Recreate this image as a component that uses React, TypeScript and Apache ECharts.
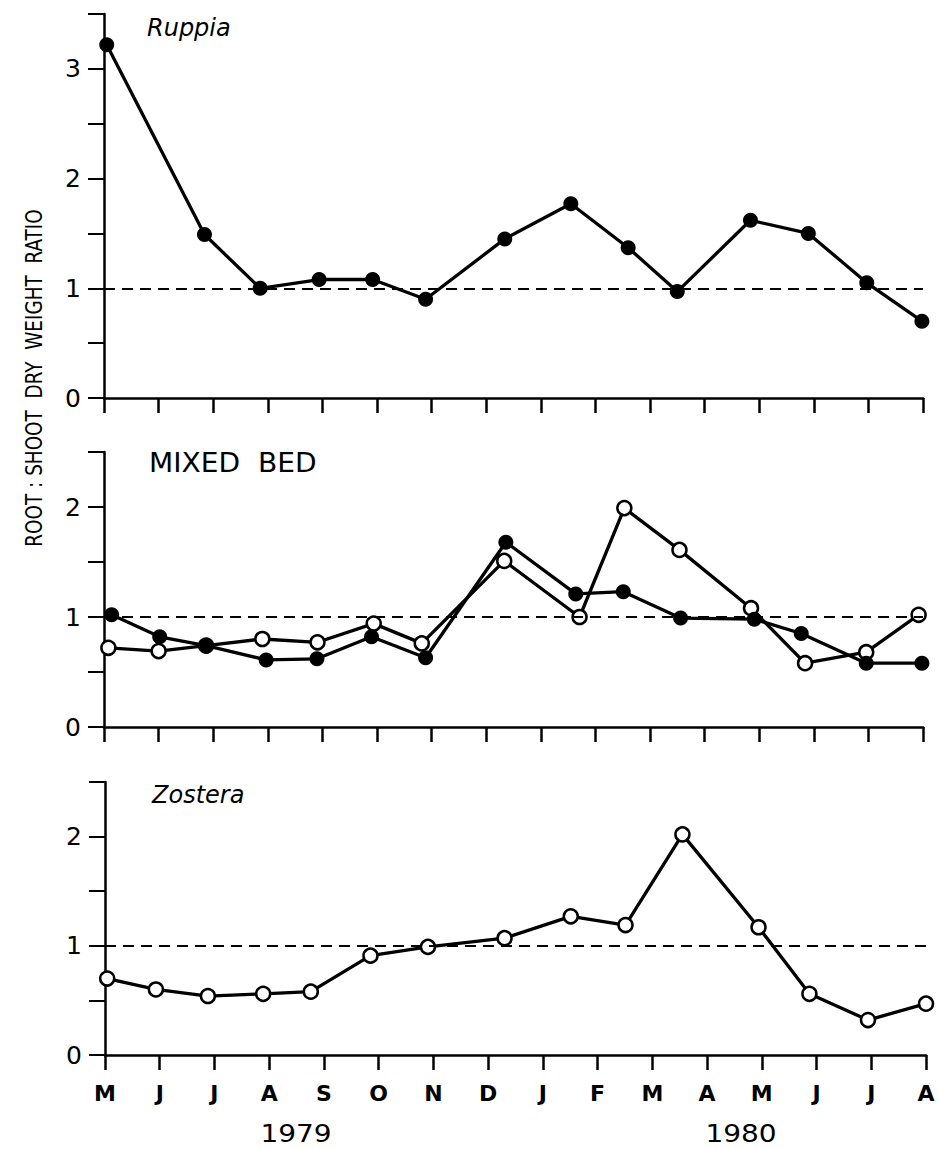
import React, { useEffect, useRef } from "react";
import * as echarts from "echarts";

// x positions are months after the start of May 1979 (0 = M, 15 = A of 1980)
const monthLabels = ["M", "J", "J", "A", "S", "O", "N", "D", "J", "F", "M", "A", "M", "J", "J", "A"];
const yearLabels = ["1979", "1980"];
const yAxisTitle = "ROOT : SHOOT  DRY  WEIGHT  RATIO";
const panelTitles = ["Ruppia", "MIXED  BED", "Zostera"];

// Ruppia bed, filled circles
const ruppiaMonths = [0.05, 1.84, 2.86, 3.94, 4.92, 5.89, 7.34, 8.55, 9.6, 10.5, 11.84, 12.9, 13.97, 14.98];
const ruppiaRatio = [3.22, 1.49, 1.0, 1.08, 1.08, 0.9, 1.45, 1.77, 1.37, 0.97, 1.62, 1.5, 1.05, 0.7];

// Mixed bed: Ruppia (filled) and Zostera (open)
const mixedRuppiaMonths = [0.14, 1.02, 1.87, 2.97, 3.9, 4.9, 5.89, 7.36, 8.64, 9.51, 10.56, 11.91, 12.77, 13.96, 14.98];
const mixedRuppiaRatio = [1.02, 0.82, 0.74, 0.61, 0.62, 0.82, 0.63, 1.68, 1.21, 1.23, 0.99, 0.98, 0.85, 0.58, 0.58];
const mixedZosteraMonths = [0.08, 1.0, 1.87, 2.9, 3.91, 4.94, 5.82, 7.33, 8.71, 9.53, 10.54, 11.85, 12.84, 13.96, 14.92];
const mixedZosteraRatio = [0.72, 0.69, 0.74, 0.8, 0.77, 0.94, 0.76, 1.51, 1.0, 1.99, 1.61, 1.08, 0.58, 0.68, 1.02];

// Zostera bed, open circles
const zosteraMonths = [0.04, 0.93, 1.88, 2.89, 3.76, 4.85, 5.9, 7.3, 8.51, 9.51, 10.55, 11.94, 12.87, 13.94, 15.0];
const zosteraRatio = [0.7, 0.6, 0.54, 0.56, 0.58, 0.91, 0.99, 1.07, 1.27, 1.19, 2.02, 1.17, 0.56, 0.32, 0.47];

const yMax = [3.5, 2.5, 2.5];
const referenceRatio = 1;

const FONT = "DejaVu Sans";
const INK = "#000";

const pairs = (xs: number[], ys: number[]) => xs.map((x, i) => [x, ys[i]]);

const filledStyle = {
  symbol: "circle",
  symbolSize: 15,
  itemStyle: { color: INK },
};
const openStyle = {
  symbol: "circle",
  symbolSize: 14,
  itemStyle: { color: "#fff", borderColor: INK, borderWidth: 2.5 },
};

function lineSeries(panel: number, data: number[][], marker: any, z: number) {
  return {
    type: "line",
    xAxisIndex: panel,
    yAxisIndex: panel,
    data,
    showAllSymbol: true,
    ...marker,
    lineStyle: { color: INK, width: 3.3 },
    z,
    silent: true,
  };
}

function refLine(panel: number) {
  return {
    type: "line",
    xAxisIndex: panel,
    yAxisIndex: panel,
    data: [],
    z: 1,
    silent: true,
    markLine: {
      silent: true,
      symbol: ["none", "none"],
      label: { show: false },
      lineStyle: { color: INK, width: 2.2, type: [11, 7] },
      data: [{ yAxis: referenceRatio }],
    },
  };
}

export default function App() {
  const ref = useRef<HTMLDivElement>(null);

  useEffect(() => {
    if (!ref.current) return;
    const chart = echarts.init(ref.current, undefined, { renderer: "svg" });

    const grids = [
      { left: 104, top: 14, width: 819, height: 384 },
      { left: 104, top: 452, width: 819, height: 275 },
      { left: 105, top: 782, width: 821, height: 273 },
    ];

    const xAxes = grids.map((_, i) => ({
      type: "value",
      gridIndex: i,
      min: 0,
      max: 15,
      interval: 1,
      axisLine: { show: true, onZero: false, lineStyle: { color: INK, width: 2.5 } },
      axisTick: { show: true, inside: false, length: 15, lineStyle: { color: INK, width: 2.5 } },
      splitLine: { show: false },
      axisLabel: {
        show: i === 2,
        margin: 27,
        color: INK,
        fontFamily: FONT,
        fontSize: 22,
        fontWeight: "bold",
        formatter: (v: number) => monthLabels[Math.round(v)] ?? "",
      },
    }));

    const yAxes = grids.map((_, i) => ({
      type: "value",
      gridIndex: i,
      min: 0,
      max: yMax[i],
      interval: 0.5,
      axisLine: { show: true, onZero: false, lineStyle: { color: INK, width: 2.5 } },
      axisTick: { show: true, inside: false, length: 16, lineStyle: { color: INK, width: 2 } },
      splitLine: { show: false },
      axisLabel: {
        margin: 23,
        color: INK,
        fontFamily: FONT,
        fontSize: 25,
        formatter: (v: number) => (Number.isInteger(v) ? String(v) : ""),
      },
    }));

    const textStyle = (size: number, extra: any = {}) => ({
      fill: INK,
      fontFamily: FONT,
      fontSize: size,
      ...extra,
    });

    chart.setOption({
      animation: false,
      backgroundColor: "#fff",
      grid: grids,
      xAxis: xAxes,
      yAxis: yAxes,
      series: [
        refLine(0),
        refLine(1),
        refLine(2),
        lineSeries(0, pairs(ruppiaMonths, ruppiaRatio), filledStyle, 3),
        lineSeries(1, pairs(mixedZosteraMonths, mixedZosteraRatio), openStyle, 3),
        lineSeries(1, pairs(mixedRuppiaMonths, mixedRuppiaRatio), filledStyle, 4),
        lineSeries(2, pairs(zosteraMonths, zosteraRatio), openStyle, 3),
      ],
      graphic: [
        {
          type: "text",
          x: 147,
          y: 28,
          style: textStyle(24, { text: panelTitles[0], fontStyle: "italic", verticalAlign: "middle" }),
        },
        {
          type: "text",
          x: 149,
          y: 463,
          scaleX: 1.08,
          style: textStyle(26, { text: panelTitles[1], verticalAlign: "middle" }),
        },
        {
          type: "text",
          x: 152,
          y: 795,
          style: textStyle(24, { text: panelTitles[2], fontStyle: "italic", verticalAlign: "middle" }),
        },
        {
          type: "text",
          x: 296,
          y: 1133,
          scaleX: 1.12,
          style: textStyle(25, { text: yearLabels[0], align: "center", verticalAlign: "middle" }),
        },
        {
          type: "text",
          x: 741,
          y: 1133,
          scaleX: 1.12,
          style: textStyle(25, { text: yearLabels[1], align: "center", verticalAlign: "middle" }),
        },
        {
          type: "text",
          x: 34,
          y: 378,
          rotation: Math.PI / 2,
          scaleX: 0.8,
          style: textStyle(23, { text: yAxisTitle, align: "center", verticalAlign: "middle" }),
        },
      ],
    });

    return () => chart.dispose();
  }, []);

  return (
    <div
      ref={ref}
      style={{ position: "absolute", left: 0, top: 0, width: 938, height: 1149, background: "#fff" }}
    />
  );
}
